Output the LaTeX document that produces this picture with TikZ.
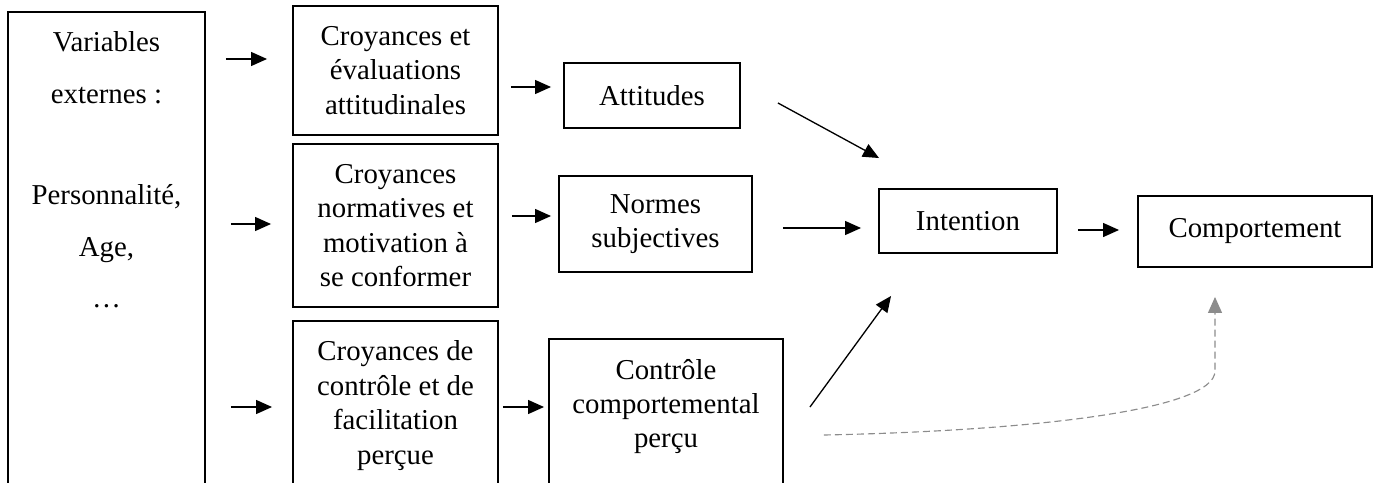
\documentclass[tikz,border=0pt]{standalone}
\usepackage{fontspec}
\setmainfont{Liberation Serif}
\usetikzlibrary{arrows.meta, positioning}
\definecolor{linkgray}{RGB}{140,140,140}
\tikzset{
x=0.02cm, y=-0.02cm, % one unit is one pixel of the layout
box/.style={draw, line width=1.1pt, align=center, inner xsep=0.2cm, inner ysep=0.2cm, font=\fontsize{16.4pt}{19.6pt}\selectfont}, % framed boxes
open box/.style={box, anchor=north, inner ysep=0.4cm, text depth=6cm}, % boxes running past the bottom edge
link/.style={-{Triangle[length=0.32cm,width=0.28cm]}, line width=0.75pt}, % solid arrows
weak link/.style={-{Triangle[length=0.32cm,width=0.28cm]}, line width=0.65pt, linkgray, dash pattern=on 0.14cm off 0.08cm}, % dashed arrow
}
\begin{document}
\begin{tikzpicture}
                \useasboundingbox (0,0) rectangle (1379,483);

                \node[open box, minimum width=197*0.02cm] (ext) at (106.5,11)
                    {Variables\\[9.7pt] externes :\\[38pt] Personnalité,\\[9.7pt] Age,\\[9.7pt] …};

                \node[box, minimum width=205*0.02cm, minimum height=129*0.02cm] (att_bel) at (395.5,70.5)
                    {Croyances et\\ évaluations\\ attitudinales};
                \node[box, minimum width=205*0.02cm, minimum height=163*0.02cm] (norm_bel) at (395.5,225.5)
                    {Croyances\\ normatives et\\ motivation à\\ se conformer};
                \node[open box, minimum width=205*0.02cm] (ctrl_bel) at (395.5,320)
                    {Croyances de\\ contrôle et de\\ facilitation\\ perçue};

                \node[box, minimum width=176*0.02cm, minimum height=65*0.02cm] (att) at (652,95.5) {Attitudes};
                \node[box, minimum width=193*0.02cm, minimum height=96*0.02cm] (norm) at (655.5,224) {Normes\\ subjectives};
                \node[open box, minimum width=234*0.02cm] (ctrl) at (666,338)
                    {Contrôle\\ comportemental\\ perçu};

                \node[box, minimum width=178*0.02cm, minimum height=64*0.02cm] (int) at (968,221) {Intention};
                \node[box, minimum width=234*0.02cm, minimum height=71*0.02cm] (comp) at (1255,231.5) {Comportement};

                \path[link]
                    (ext.east |- 0,59) edge[shorten <=0.4cm, shorten >=0.5cm] (att_bel.west |- 0,59)
                    (ext.east |- 0,224) edge[shorten <=0.5cm, shorten >=0.42cm] (norm_bel.west |- 0,224)
                    (ext.east |- 0,407) edge[shorten <=0.5cm, shorten >=0.4cm] (ctrl_bel.west |- 0,407)
                    %
                    (att_bel.east |- 0,87) edge[shorten <=0.24cm, shorten >=0.24cm] (att.west |- 0,87)
                    (norm_bel.east |- 0,216) edge[shorten <=0.26cm, shorten >=0.14cm] (norm.west |- 0,216)
                    (ctrl_bel.east |- 0,407) edge[shorten <=0.08cm, shorten >=0.08cm] (ctrl.west |- 0,407)
                    %
                    ([shift={(37,7.5)}]att.east) edge ([shift={(1,-30)}]int.north west)
                    (norm.east |- 0,228) edge[shorten <=0.6cm, shorten >=0.34cm] (int.west |- 0,228)
                    ([shift={(26,69)}]ctrl.north east) edge ([shift={(13,42)}]int.south west)
                    (int.east |- 0,230) edge[shorten <=0.4cm, shorten >=0.36cm] (comp.west |- 0,230);
                \draw[weak link] ([shift={(40,97)}]ctrl.north east)
                    .. controls +(200,-4) and +(0,40) .. ([shift={(-40,103)}]comp.south)
                    -- ([shift={(-40,29)}]comp.south);
\end{tikzpicture}
\end{document}
